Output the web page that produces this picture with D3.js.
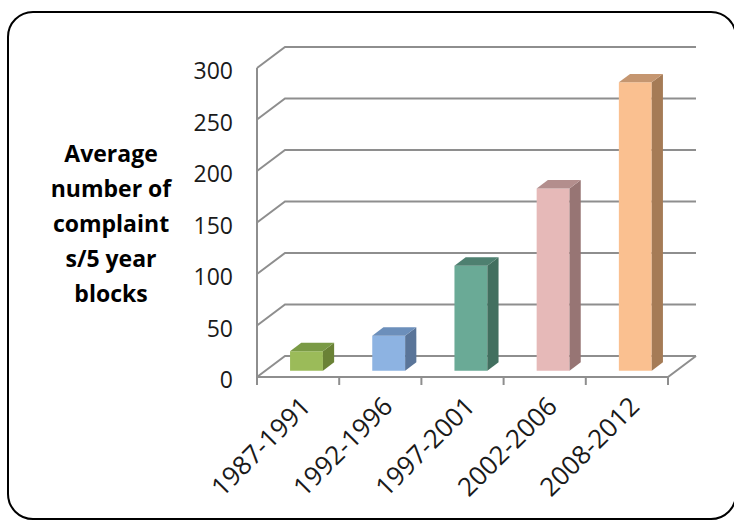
<!DOCTYPE html>
<html>
<head>
<meta charset="utf-8">
<script src="https://cdn.jsdelivr.net/npm/d3@7"></script>
<style>
  html, body { margin: 0; padding: 0; background: #ffffff; }
  svg { display: block; }
</style>
</head>
<body>
<script>
// ---- data ----
const categories = ["1987-1991", "1992-1996", "1997-2001", "2002-2006", "2008-2012"];
const values = [19, 34, 102, 177, 280];
const yTicks = [0, 50, 100, 150, 200, 250, 300];
const titleLines = ["Average", "number of", "complaint", "s/5 year", "blocks"];
const frontColors = ["#9BBB59", "#8DB3E2", "#6AAA96", "#E6B9B8", "#FAC090"];
const sideColors  = ["#6A8236", "#5A7599", "#426F5F", "#977574", "#A57B56"];
const topColors   = ["#7A9A45", "#6C8FBB", "#4E8070", "#B38E8D", "#C59670"];

const W = 734, H = 521;
const svg = d3.select("body").append("svg").attr("width", W).attr("height", H);

// border
svg.append("rect")
  .attr("x", 8).attr("y", 12).attr("width", 728).attr("height", 507)
  .attr("rx", 25).attr("ry", 25)
  .attr("fill", "#fff").attr("stroke", "#000").attr("stroke-width", 2);

// scales
const x = d3.scaleBand().domain(categories).range([257, 668]).paddingInner(0).paddingOuter(0);
const y = d3.scaleLinear().domain([0, 300]).range([377, 68]);
const DX = 28, DY = -21;
const proj = (px, py, d) => [px + DX * d, py + DY * d];

const gridColor = "#8e8e8e";
const g = svg.append("g");

// gridlines: left wall diagonal + back wall horizontal
yTicks.forEach(t => {
  const f = proj(257, y(t), 0), b = proj(257, y(t), 1), e = proj(668, y(t), 1);
  g.append("path")
    .attr("d", `M${f[0]},${f[1]}L${b[0]},${b[1]}L${e[0]},${e[1]}`)
    .attr("fill", "none").attr("stroke", gridColor).attr("stroke-width", 2);
});
// left vertical axis
g.append("line").attr("x1", 257).attr("x2", 257).attr("y1", y(300)).attr("y2", y(0) + 8)
  .attr("stroke", gridColor).attr("stroke-width", 2);
// floor front edge + right edge
{
  const a = proj(257, y(0), 0), b = proj(668, y(0), 0), c = proj(668, y(0), 1);
  g.append("path").attr("d", `M${a[0]},${a[1]}L${b[0]},${b[1]}L${c[0]},${c[1]}`)
    .attr("fill", "none").attr("stroke", gridColor).attr("stroke-width", 2);
}
// category ticks
const bounds = categories.map(c => x(c)).concat([x.range()[1]]);
bounds.forEach(bx => {
  g.append("line").attr("x1", bx).attr("x2", bx).attr("y1", y(0)).attr("y2", y(0) + 8)
    .attr("stroke", gridColor).attr("stroke-width", 2);
});

// bars
const d0 = 0.3, d1 = 0.7;
const bw = x.bandwidth() * 0.4;
categories.forEach((c, i) => {
  const x0 = x(c) + x.bandwidth() * 0.3;
  const x1 = x0 + bw;
  const yt = y(values[i]), yb = y(0);
  const p = (px, py, d) => proj(px, py, d).join(",");
  // front
  g.append("path")
    .attr("d", `M${p(x0, yb, d0)}L${p(x1, yb, d0)}L${p(x1, yt, d0)}L${p(x0, yt, d0)}Z`)
    .attr("fill", frontColors[i]);
  // side
  g.append("path")
    .attr("d", `M${p(x1, yb, d0)}L${p(x1, yb, d1)}L${p(x1, yt, d1)}L${p(x1, yt, d0)}Z`)
    .attr("fill", sideColors[i]);
  // top
  g.append("path")
    .attr("d", `M${p(x0, yt, d0)}L${p(x1, yt, d0)}L${p(x1, yt, d1)}L${p(x0, yt, d1)}Z`)
    .attr("fill", topColors[i]);
});

// y tick labels
const font = "'Open Sans', 'Liberation Sans', sans-serif";
yTicks.forEach(t => {
  svg.append("text")
    .attr("x", 233).attr("y", y(t) + 2)
    .attr("text-anchor", "end").attr("dominant-baseline", "central")
    .attr("font-family", font).attr("font-size", 23).attr("fill", "#1a1a1a")
    .text(t);
});

// x labels
categories.forEach(c => {
  const cx = x(c) + x.bandwidth() / 2 + 7;
  svg.append("text")
    .attr("transform", `translate(${cx},${401}) rotate(-45)`)
    .attr("text-anchor", "end").attr("dominant-baseline", "central")
    .attr("font-family", font).attr("font-size", 26).attr("fill", "#1a1a1a")
    .text(c);
});

// y axis title
titleLines.forEach((t, i) => {
  svg.append("text")
    .attr("x", 111).attr("y", 162 + i * 35)
    .attr("text-anchor", "middle")
    .attr("font-family", font).attr("font-weight", "bold").attr("font-size", 23).attr("fill", "#000")
    .text(t);
});
</script>
</body>
</html>
